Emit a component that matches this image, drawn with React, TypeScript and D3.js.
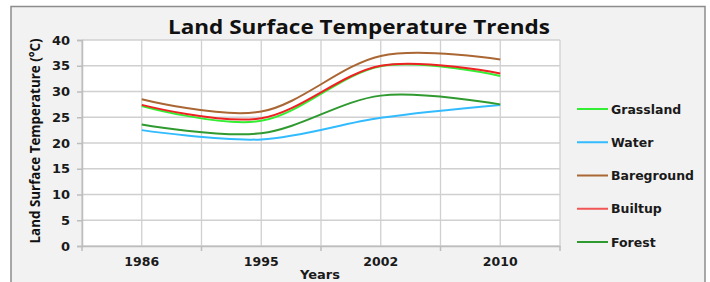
import { useRef, useEffect } from "react";
import * as d3 from "d3";

const years = ["1986", "1995", "2002", "2010"];
const grassland = [27.2, 24.3, 34.9, 33.0];
const water = [22.5, 20.7, 24.9, 27.4];
const bareground = [28.5, 26.1, 36.9, 36.2];
const builtup = [27.4, 24.8, 35.0, 33.5];
const forest = [23.6, 21.9, 29.2, 27.5];
const yTicks = [0, 5, 10, 15, 20, 25, 30, 35, 40];

const series = [
  { name: "Grassland", values: grassland, color: "#33ee33", legendColor: "#33ee33" },
  { name: "Water", values: water, color: "#33bbff", legendColor: "#33bbff" },
  { name: "Bareground", values: bareground, color: "#aa6633", legendColor: "#aa6633" },
  { name: "Builtup", values: builtup, color: "#ee2222", legendColor: "#f25555" },
  { name: "Forest", values: forest, color: "#2f9a2f", legendColor: "#2f9a2f" },
];

const W = 710;
const H = 282;

const App = () => {
  const ref = useRef<SVGSVGElement>(null);

  useEffect(() => {
    if (!ref.current) return;
    const svg = d3.select(ref.current);
    svg.selectAll("*").remove();

    const left = 82, right = 560, top = 40, bottom = 246;
    const x = d3.scaleBand().domain(years).range([left, right]).padding(0);
    const y = d3.scaleLinear().domain([0, 40]).range([bottom, top]);
    const bw = x.bandwidth();

    // chart frame
    svg.append("rect")
      .attr("x", 11).attr("y", 6.5)
      .attr("width", 694).attr("height", 300)
      .attr("fill", "#f2f2f2")
      .attr("stroke", "#8c8c8c")
      .attr("stroke-width", 1.5);

    // plot area
    svg.append("rect")
      .attr("x", left).attr("y", top)
      .attr("width", right - left).attr("height", bottom - top)
      .attr("fill", "#ffffff");

    // vertical grid: band edges and centers
    const vLines: number[] = [];
    years.forEach((yr) => {
      vLines.push(x(yr)!);
      vLines.push(x(yr)! + bw / 2);
    });
    vLines.push(right);
    svg.append("g").selectAll("line").data(vLines).enter().append("line")
      .attr("x1", (d) => d).attr("x2", (d) => d)
      .attr("y1", top).attr("y2", bottom)
      .attr("stroke", "#d0d0d0").attr("stroke-width", 1.3);

    // horizontal grid
    svg.append("g").selectAll("line").data(yTicks).enter().append("line")
      .attr("x1", left).attr("x2", right)
      .attr("y1", (d) => y(d)).attr("y2", (d) => y(d))
      .attr("stroke", "#d0d0d0").attr("stroke-width", 1.6);

    // y axis
    const yAxis = svg.append("g").attr("transform", `translate(${left},0)`)
      .call(d3.axisLeft(y).tickValues(yTicks).tickSize(5).tickPadding(7));
    yAxis.select(".domain").attr("stroke", "#bdbdbd").attr("stroke-width", 1.5);
    yAxis.selectAll(".tick line").attr("stroke", "#bdbdbd").attr("stroke-width", 1.5);
    yAxis.selectAll("text")
      .attr("font-family", "DejaVu Sans")
      .attr("font-weight", "bold")
      .attr("font-size", 13)
      .attr("fill", "#1a1a1a");

    // x axis
    const xAxis = svg.append("g").attr("transform", `translate(0,${bottom})`)
      .call(d3.axisBottom(x).tickSize(0).tickPadding(11));
    xAxis.select(".domain").attr("stroke", "#bdbdbd").attr("stroke-width", 1.5);
    xAxis.selectAll("text")
      .attr("font-family", "DejaVu Sans")
      .attr("font-weight", "bold")
      .attr("font-size", 12.5)
      .attr("fill", "#1a1a1a");
    // x tick marks at band boundaries
    const xTicks = years.map((yr) => x(yr)!).concat([right]);
    svg.append("g").selectAll("line").data(xTicks).enter().append("line")
      .attr("x1", (d) => d).attr("x2", (d) => d)
      .attr("y1", bottom).attr("y2", bottom + 5)
      .attr("stroke", "#bdbdbd").attr("stroke-width", 1.5);

    // lines
    const line = d3.line<number>()
      .x((_, i) => x(years[i])! + bw / 2)
      .y((d) => y(d))
      .curve(d3.curveCardinal.tension(0));

    svg.append("g").selectAll("path").data(series).enter().append("path")
      .attr("d", (s) => line(s.values))
      .attr("fill", "none")
      .attr("stroke", (s) => s.color)
      .attr("stroke-width", 2);

    // title
    svg.append("text")
      .attr("x", 359).attr("y", 34)
      .attr("text-anchor", "middle")
      .attr("font-family", "Open Sans")
      .attr("font-weight", "bold")
      .attr("font-size", 19)
      .attr("textLength", 382)
      .attr("lengthAdjust", "spacingAndGlyphs")
      .attr("fill", "#111")
      .text("Land Surface Temperature Trends");

    // y title
    svg.append("text")
      .attr("transform", `translate(40,141) rotate(-90)`)
      .attr("text-anchor", "middle")
      .attr("font-family", "Open Sans")
      .attr("font-weight", "bold")
      .attr("font-size", 15)
      .attr("textLength", 205)
      .attr("lengthAdjust", "spacingAndGlyphs")
      .attr("fill", "#111")
      .text("Land Surface Temperature (°C)");

    // x title
    svg.append("text")
      .attr("x", 320).attr("y", 279)
      .attr("text-anchor", "middle")
      .attr("font-family", "DejaVu Sans")
      .attr("font-weight", "bold")
      .attr("font-size", 13)
      .attr("fill", "#1a1a1a")
      .text("Years");

    // legend
    const legendY = d3.scalePoint().domain(series.map((s) => s.name)).range([109, 242]);
    const lg = svg.append("g").selectAll("g").data(series).enter().append("g")
      .attr("transform", (s) => `translate(577,${legendY(s.name)})`);
    lg.append("line")
      .attr("x1", 0).attr("x2", 31)
      .attr("stroke", (s) => s.legendColor)
      .attr("stroke-width", 2);
    lg.append("text")
      .attr("x", 34).attr("dy", "0.36em")
      .attr("font-family", "DejaVu Sans")
      .attr("font-weight", "bold")
      .attr("font-size", 12.5)
      .attr("fill", "#1a1a1a")
      .text((s) => s.name);
  }, []);

  return (
    <svg
      ref={ref}
      width={W}
      height={H}
      style={{ position: "absolute", left: 0, top: 0, background: "#fff" }}
    />
  );
};

export default App;
